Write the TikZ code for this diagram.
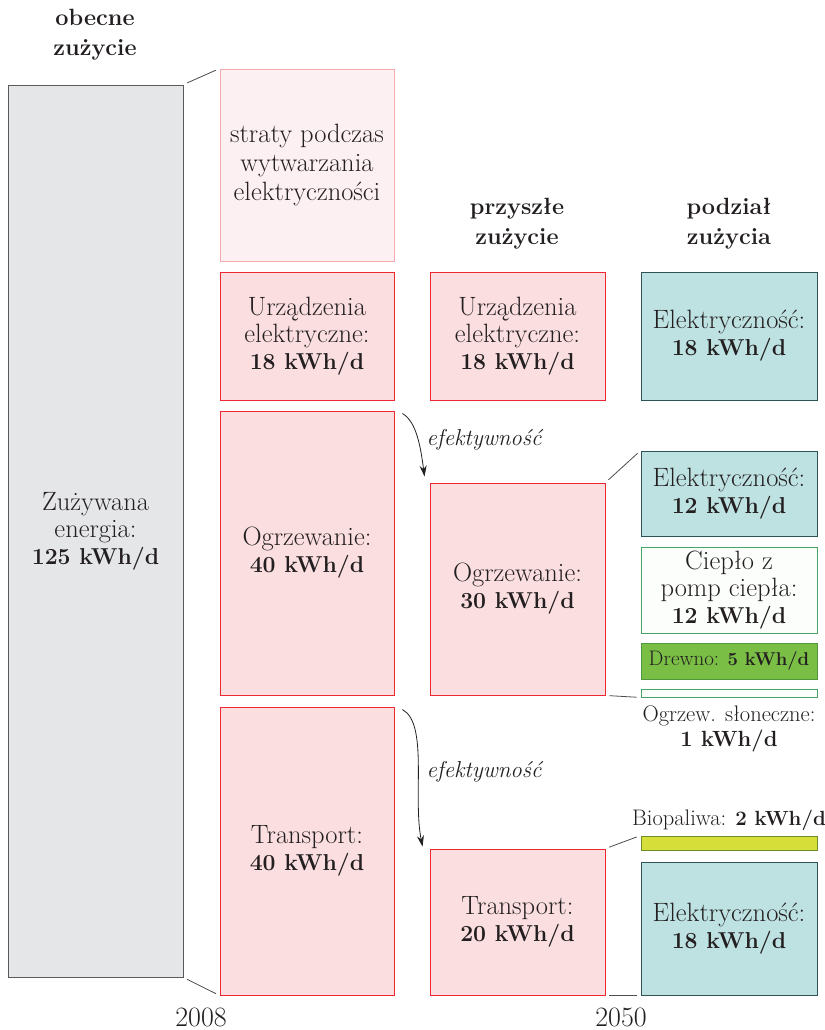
\documentclass[tikz,border=0pt]{standalone}
\usepackage{fontspec}
\usetikzlibrary{arrows.meta}

\definecolor{inkgrey}{RGB}{35,31,32}
\definecolor{usefill}{RGB}{229,230,232}
\definecolor{useline}{RGB}{90,90,92}
\definecolor{lossfill}{RGB}{253,240,242}
\definecolor{lossline}{RGB}{248,170,176}
\definecolor{demfill}{RGB}{251,222,224}
\definecolor{demline}{RGB}{237,40,48}
\definecolor{elefill}{RGB}{190,225,226}
\definecolor{eleline}{RGB}{45,85,88}
\definecolor{heatline}{RGB}{70,165,100}
\definecolor{heatfill}{RGB}{252,254,252}
\definecolor{woodfill}{RGB}{122,190,70}
\definecolor{woodline}{RGB}{80,150,60}
\definecolor{biofill}{RGB}{214,222,58}
\definecolor{bioline}{RGB}{110,140,40}

% bold amounts, set a little smaller than the text round them
\newcommand\amount[1]{{\fontsize{23}{27}\selectfont\bfseries #1}}

\begin{document}
\begin{tikzpicture}[x=1pt, y=-1pt,
  txt/.style={font=\fontsize{26.5}{27}\selectfont, text=inkgrey, align=center},
  head/.style={txt, font=\fontsize{23.5}{30}\selectfont\bfseries},
  box/.style={txt, draw, line width=0.9pt, inner sep=0pt},
  usebox/.style={box, fill=usefill, draw=useline},
  lossbox/.style={box, fill=lossfill, draw=lossline, font=\fontsize{26.5}{29}\selectfont},
  dembox/.style={box, fill=demfill, draw=demline},
  elebox/.style={box, fill=elefill, draw=eleline},
  heatbox/.style={box, fill=heatfill, draw=heatline},
  woodbox/.style={box, fill=woodfill, draw=woodline, font=\fontsize{21}{24}\selectfont},
  biobox/.style={box, fill=biofill, draw=bioline},
  yearlab/.style={font=\fontsize{28}{28}\selectfont, text=inkgrey, inner sep=0pt, anchor=base},
  link/.style={draw=inkgrey!80, line width=0.8pt, shorten <=4pt, shorten >=4pt},
  effarrow/.style={draw=inkgrey, line width=0.8pt, -{Stealth[length=11pt, width=7pt]}},
  efflabel/.style={txt, font=\fontsize{23}{25}\selectfont\itshape, anchor=west}]
\useasboundingbox (0,0) rectangle (824,1030);

% column headers
\node[head] (hnow) at (95,35) {obecne\\zużycie};
\node[head] (hfut) at (517,224) {przyszłe\\zużycie};
\node[head] (hsplit) at (729,224) {podział\\zużycia};

% 2008
\node[usebox, minimum width=175, minimum height=892] (total) at (95.5,531) {Zużywana\\energia:\\\amount{125 kWh/d}};
\node[lossbox, minimum width=174, minimum height=192] (loss) at (307,165) {straty podczas\\wytwarzania\\elektryczności};
\node[dembox, minimum width=174, minimum height=128] (app1) at (307,336) {Urządzenia\\elektryczne:\\\amount{18 kWh/d}};
\node[dembox, minimum width=174, minimum height=284] (heat1) at (307,553) {Ogrzewanie:\\\amount{40 kWh/d}};
\node[dembox, minimum width=174, minimum height=288] (trans1) at (307,851) {Transport:\\\amount{40 kWh/d}};

% 2050
\node[dembox, minimum width=175, minimum height=128] (app2) at (517.5,336) {Urządzenia\\elektryczne:\\\amount{18 kWh/d}};
\node[dembox, minimum width=175, minimum height=212] (heat2) at (517.5,589) {Ogrzewanie:\\\amount{30 kWh/d}};
\node[dembox, minimum width=175, minimum height=146] (trans2) at (517.5,922) {Transport:\\\amount{20 kWh/d}};

% split
\node[elebox, minimum width=176, minimum height=128] (ele1) at (729,336) {Elektryczność:\\\amount{18 kWh/d}};
\node[elebox, minimum width=176, minimum height=85] (ele2) at (729,493.5) {Elektryczność:\\\amount{12 kWh/d}};
\node[heatbox, minimum width=176, minimum height=86] (pump) at (729,590) {Ciepło z\\pomp ciepła:\\\amount{12 kWh/d}};
\node[woodbox, minimum width=176, minimum height=36] (wood) at (729,661) {Drewno: {\fontsize{18.5}{20}\selectfont\bfseries 5 kWh/d}};
\node[heatbox, minimum width=176, minimum height=8] (solar) at (729,693) {};
\node[txt, font=\fontsize{22.5}{25}\selectfont] (solarlab) at (729,729) {Ogrzew. słoneczne:\\{\fontsize{22}{25}\selectfont\bfseries 1 kWh/d}};
\node[txt, font=\fontsize{22.5}{25}\selectfont] (biolab) at (729,820) {Biopaliwa: {\fontsize{20.5}{25}\selectfont\bfseries 2 kWh/d}};
\node[biobox, minimum width=176, minimum height=14] (bio) at (729,843) {};
\node[elebox, minimum width=176, minimum height=133] (ele3) at (729,928.5) {Elektryczność:\\\amount{18 kWh/d}};

% years
\node[yearlab] (y2008) at (201,1026) {2008};
\node[yearlab] (y2050) at (621,1026) {2050};

% connectors
\draw[link] (total.north east) -- (loss.north west);
\draw[link] (total.south east) -- (trans1.south west);
\draw[link] (heat2.north east) -- (ele2.north west);
\draw[link] (heat2.south east) -- (solar.south west);
\draw[link] (trans2.north east) -- (bio.north west);
\draw[link] (trans2.south east) -- (ele3.south west);

\draw[effarrow] ([shift={(8,3)}]heat1.north east) .. controls +(14,8) and +(-4,-30) .. ([shift={(-5,-6)}]heat2.north west);
\node[efflabel] (eff1) at (423,440) {efektywność};
\draw[effarrow] ([shift={(8,3)}]trans1.north east) .. controls +(26,14) and +(-10,-50) .. ([shift={(-7,-2)}]trans2.north west);
\node[efflabel] (eff2) at (423,772) {efektywność};
\end{tikzpicture}
\end{document}
